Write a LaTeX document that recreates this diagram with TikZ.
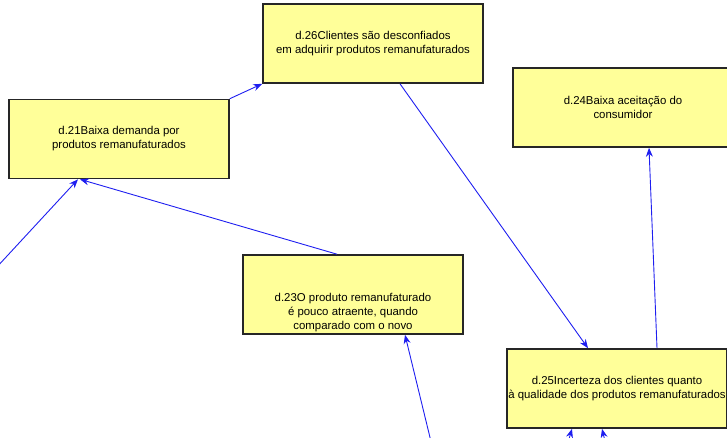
\documentclass[tikz,border=0pt]{standalone}
\usepackage{fontspec}
\setmainfont{Liberation Sans}
\usetikzlibrary{arrows.meta}
\definecolor{boxfill}{RGB}{255,255,153}
\definecolor{linkblue}{RGB}{30,30,240}

\begin{document}
\begin{tikzpicture}[x=1pt,y=-1pt,
	box/.style={draw=black!85,line width=1.6pt,fill=boxfill,minimum width=220pt,minimum height=79pt,inner xsep=0pt,align=center,font=\fontsize{11.4}{14}\selectfont},
	txt/.style={align=center,inner sep=0pt,font=\fontsize{11.4}{14}\selectfont},
	link/.style={draw=linkblue,line width=0.9pt,-{Stealth[length=9pt,width=7pt]}}]
	\useasboundingbox (0,0) rectangle (727,437);
	\clip (0,0) rectangle (727,437);
	% boxes
	\node[box] (d26) at (373,43.5) {d.26Clientes são desconfiados\\em adquirir produtos remanufaturados};
	\node[box] (d21) at (119,139) {d.21Baixa demanda por\\produtos remanufaturados};
	\node[box] (d24) at (623,107.5) {d.24Baixa aceitação do\\consumidor};
	\node[box] (d23) at (353,294.5) {};
	\node[txt] (d23t) at (353,313) {d.23O produto remanufaturado\\é pouco atraente, quando\\comparado com o novo};
	\node[box] (d25) at (617,388.5) {d.25Incerteza dos clientes quanto\\à qualidade dos produtos remanufaturados};
	% loose ends outside the frame
	\coordinate (in21) at (-17,282);
	\coordinate (in23) at (435,458);
	\coordinate (inA) at (560,470);
	\coordinate (inB) at (612,470);
	% links
	\draw[link] (d21.north east) -- (d26.south west);
	\draw[link] ([xshift=27pt]d26.south) -- ([xshift=-29pt]d25.north);
	\draw[link] ([xshift=40pt]d25.north) -- ([xshift=26pt]d24.south);
	\draw[link] ([xshift=-16pt]d23.north) -- ([xshift=-39pt]d21.south);
	\draw[link] (in21) -- ([xshift=-41pt]d21.south);
	\draw[link] (in23) -- ([xshift=52pt]d23.south);
	\draw[link] (inA) -- ([xshift=-45pt]d25.south);
	\draw[link] (inB) -- ([xshift=-15pt]d25.south);
\end{tikzpicture}
\end{document}
